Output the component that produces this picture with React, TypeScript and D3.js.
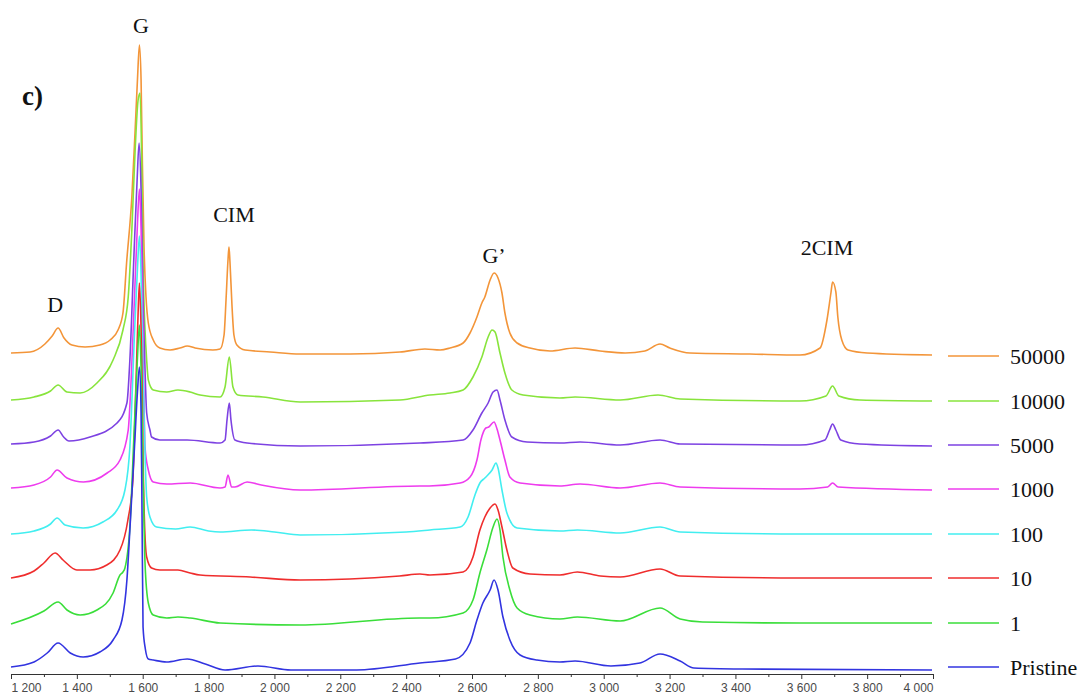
import { useEffect, useRef } from 'react';
import * as d3 from 'd3';

// Raman spectra, wavenumber (cm-1) vs intensity (a.u.) above each trace's own baseline
const pristine: [number, number][] = [
  [1200, 0], [1270, 5], [1310, 14], [1343, 24], [1380, 14], [1419, 10], [1470, 15], [1510, 27],
  [1537, 47], [1552, 87], [1561, 137], [1575, 220], [1584, 275], [1590, 300], [1595, 255],
  [1598, 150], [1601, 40], [1608, 18], [1617, 8], [1632, 7], [1672, 5], [1735, 8], [1790, 3],
  [1850, -3], [1950, 1], [2050, -3], [2250, -3], [2442, 4], [2550, 8], [2594, 24], [2615, 47],
  [2633, 64], [2655, 77], [2667, 87], [2679, 77], [2694, 50], [2715, 27], [2746, 12], [2797, 7],
  [2867, 5], [2913, 6], [3022, 1], [3110, 4], [3171, 13], [3232, 6], [3274, -1], [3420, -2], [3997, -3],
];

const dose1: [number, number][] = [
  [1200, -1], [1300, 12], [1343, 21], [1370, 13], [1410, 8], [1461, 13], [1510, 30], [1531, 48],
  [1540, 51], [1546, 55], [1561, 96], [1575, 200], [1584, 265], [1590, 298], [1595, 255],
  [1601, 150], [1607, 60], [1617, 20], [1632, 8], [1673, 5], [1707, 6], [1744, 5], [1835, 0],
  [2078, -2], [2440, 5], [2472, 5], [2573, 10], [2603, 23], [2624, 50], [2645, 73], [2664, 96],
  [2676, 104], [2685, 93], [2694, 66], [2715, 33], [2737, 15], [2776, 8], [2867, 4], [2920, 6],
  [3050, 2], [3171, 15], [3232, 4], [3300, 1], [3596, 0], [3997, 0],
];

const dose10: [number, number][] = [
  [1200, 0], [1270, 7], [1300, 15], [1334, 25], [1358, 18], [1400, 8], [1440, 8], [1491, 13],
  [1531, 28], [1555, 58], [1570, 98], [1580, 200], [1586, 265], [1590, 295], [1595, 250],
  [1598, 200], [1601, 120], [1605, 60], [1612, 21], [1627, 10], [1652, 8], [1707, 8], [1744, 5],
  [1774, 3], [1926, 1], [2078, -2], [2380, 2], [2442, 4], [2472, 3], [2573, 6], [2603, 21],
  [2624, 48], [2639, 61], [2655, 70], [2670, 74], [2679, 68], [2691, 51], [2706, 28], [2724, 10],
  [2776, 4], [2867, 3], [2920, 6], [2990, 2], [3050, 1], [3171, 9], [3232, 2], [3596, 0], [3997, 0],
];

const dose100: [number, number][] = [
  [1200, 0], [1270, 3], [1320, 10], [1340, 16], [1364, 9], [1419, 6], [1479, 12], [1522, 24],
  [1546, 44], [1561, 87], [1575, 200], [1584, 265], [1590, 298], [1595, 260], [1601, 160],
  [1607, 80], [1612, 37], [1622, 17], [1642, 7], [1700, 5], [1744, 7], [1800, 3], [1835, 2],
  [1930, 4], [2000, 2], [2078, -1], [2400, 2], [2472, 4], [2564, 7], [2588, 17], [2609, 39],
  [2624, 51], [2639, 56], [2661, 64], [2673, 71], [2679, 66], [2691, 44], [2706, 21], [2737, 6],
  [2867, 3], [2920, 4], [3050, 1], [3171, 7], [3232, 2], [3596, 0], [3997, 0],
];

const dose1000: [number, number][] = [
  [1200, 1], [1270, 4], [1320, 12], [1340, 19], [1370, 11], [1420, 7], [1492, 16], [1531, 29],
  [1556, 59], [1565, 110], [1576, 200], [1584, 265], [1590, 300], [1595, 260], [1601, 150],
  [1607, 42], [1617, 19], [1632, 7], [1673, 5], [1744, 6], [1835, 1], [1850, 2], [1859, 14],
  [1870, 2], [1880, 2], [1917, 7], [1960, 4], [2078, -1], [2442, 3], [2470, 3], [2564, 6],
  [2594, 12], [2615, 29], [2627, 49], [2642, 61], [2651, 62], [2667, 67], [2676, 60], [2685, 49],
  [2700, 29], [2715, 12], [2746, 6], [2867, 3], [2928, 5], [3050, 1], [3171, 6], [3232, 2],
  [3596, 0], [3680, 2], [3695, 6], [3712, 2], [3997, -1],
];

const dose5000: [number, number][] = [
  [1200, 1], [1270, 3], [1320, 9], [1343, 15], [1360, 8], [1376, 4], [1440, 8], [1522, 22],
  [1552, 42], [1561, 85], [1574, 195], [1583, 265], [1589, 302], [1595, 255], [1601, 145],
  [1607, 75], [1612, 32], [1622, 15], [1627, 8], [1652, 5], [1735, 5], [1835, 2], [1850, 5],
  [1856, 25], [1863, 42], [1868, 25], [1880, 5], [1917, 2], [2078, -1], [2442, 2], [2573, 5],
  [2603, 15], [2630, 32], [2649, 42], [2664, 53], [2676, 55], [2685, 45], [2700, 25], [2721, 8],
  [2767, 3], [2867, 2], [2928, 3], [3050, 0], [3171, 5], [3232, 1], [3596, 0], [3672, 5],
  [3686, 15], [3695, 21], [3705, 15], [3720, 5], [3778, 1], [3997, -1],
];

const dose10000: [number, number][] = [
  [1200, 1], [1270, 4], [1320, 10], [1343, 16], [1370, 9], [1410, 8], [1461, 18], [1510, 41],
  [1540, 71], [1556, 104], [1567, 171], [1577, 251], [1586, 301], [1592, 308], [1597, 238],
  [1601, 138], [1607, 71], [1612, 41], [1617, 21], [1632, 11], [1673, 9], [1707, 11], [1744, 9],
  [1774, 6], [1835, 4], [1850, 14], [1863, 44], [1874, 14], [1889, 6], [1965, 4], [2078, -1],
  [2381, 1], [2472, 6], [2533, 8], [2573, 11], [2603, 24], [2630, 44], [2649, 64], [2661, 71],
  [2670, 69], [2685, 48], [2700, 28], [2721, 11], [2755, 6], [2867, 3], [2913, 4], [3050, 1],
  [3165, 6], [3232, 2], [3596, 0], [3675, 5], [3695, 15], [3714, 5], [3778, 1], [3997, 0],
];

const dose50000: [number, number][] = [
  [1200, 3], [1258, 4], [1303, 12], [1325, 20], [1343, 28], [1361, 18], [1385, 11], [1425, 9],
  [1470, 11], [1501, 16], [1525, 26], [1540, 43], [1551, 93], [1567, 159], [1577, 226],
  [1584, 276], [1590, 311], [1595, 276], [1599, 193], [1604, 109], [1610, 59], [1617, 33],
  [1632, 16], [1652, 8], [1683, 6], [1713, 8], [1735, 10], [1759, 8], [1813, 6], [1835, 7],
  [1847, 21], [1853, 56], [1859, 96], [1862, 109], [1865, 94], [1871, 51], [1877, 21], [1886, 11],
  [1911, 6], [1987, 4], [2078, 2], [2230, 2], [2381, 4], [2457, 7], [2503, 6], [2533, 8],
  [2573, 13], [2594, 23], [2615, 39], [2630, 53], [2639, 59], [2655, 76], [2667, 83], [2679, 78],
  [2691, 63], [2700, 43], [2715, 23], [2737, 13], [2776, 8], [2837, 5], [2913, 8], [2989, 5],
  [3065, 3], [3125, 5], [3171, 12], [3201, 8], [3262, 3], [3444, 2], [3596, 1], [3657, 8],
  [3678, 36], [3690, 63], [3695, 74], [3705, 64], [3711, 39], [3723, 16], [3742, 6], [3800, 3],
  [3997, 1],
];

const seriesNames = ['Pristine', '1', '10', '100', '1000', '5000', '10000', '50000'];
const seriesData = [pristine, dose1, dose10, dose100, dose1000, dose5000, dose10000, dose50000];
const offsets = [7, 51, 96, 140, 185, 229, 273, 318];
const colors = ['#3234e0', '#3ade3a', '#ef2d2d', '#42eef0', '#ee3cee', '#7d42e2', '#88e43c', '#f39539'];

const majorTicks = d3.range(1200, 4001, 200);
const minorTicks = d3.range(1300, 4000, 200);

const peakLabels = [
  { text: 'D', w: 1334, v: 362 },
  { text: 'G', w: 1595, v: 641 },
  { text: 'CIM', w: 1877, v: 452 },
  { text: 'G\u2019', w: 2667, v: 411 },
  { text: '2CIM', w: 3678, v: 419 },
];

const W = 1087;
const H = 697;
const serif = '"Liberation Serif", "Times New Roman", serif';

const x = d3.scaleLinear().domain([1200, 4000]).range([11, 933]);
const y = d3.scaleLinear().domain([0, 654]).range([674, 20]);

const fmt = d3.formatLocale({ decimal: ',', thousands: ' ', grouping: [3], currency: ['', ''] }).format(',');

export default function App() {
  const axisRef = useRef<SVGGElement>(null);

  useEffect(() => {
    const g = d3.select(axisRef.current);
    g.selectAll('*').remove();

    const major = g.append('g').call(
      d3.axisBottom(x).tickValues(majorTicks).tickSize(5).tickSizeOuter(0).tickPadding(4).tickFormat((d) => fmt(d as number))
    );
    major.select('.domain').attr('stroke', '#333').attr('stroke-width', 1.2);
    major.selectAll('.tick line').attr('stroke', '#333');
    major.selectAll('.tick text')
      .attr('fill', '#4a4a4a')
      .attr('font-size', 12)
      .attr('font-family', '"Liberation Sans", Arial, sans-serif')
      .attr('text-anchor', (_d, i) => (i === 0 ? 'start' : i === majorTicks.length - 1 ? 'end' : 'middle'));

    const minor = g.append('g').call(
      d3.axisBottom(x).tickValues(minorTicks).tickSize(3).tickSizeOuter(0).tickFormat(() => '')
    );
    minor.select('.domain').remove();
    minor.selectAll('.tick line').attr('stroke', '#333');
  }, []);

  const line = (offset: number) =>
    d3.line<[number, number]>()
      .x((d) => x(d[0]))
      .y((d) => y(d[1] + offset))
      .curve(d3.curveMonotoneX);

  const order = [7, 6, 5, 4, 3, 2, 1, 0];

  return (
    <svg width={W} height={H} style={{ position: 'absolute', left: 0, top: 0, background: '#fff' }}>
      {order.map((i) => (
        <path key={seriesNames[i]} d={line(offsets[i])(seriesData[i]) || ''} fill="none" stroke={colors[i]} strokeWidth={1.6} strokeLinejoin="round" />
      ))}

      <g transform={`translate(0,${y(0)})`} ref={axisRef} />

      {seriesNames.map((name, i) => (
        <g key={name} transform={`translate(0,${y(offsets[i])})`}>
          <line x1={948} x2={999} y1={0} y2={0} stroke={colors[i]} strokeWidth={1.6} />
          <text x={1010} y={8} fontFamily={serif} fontSize={22} fill="#111">{name}</text>
        </g>
      ))}

      {peakLabels.map((p) => (
        <text key={p.text} x={x(p.w)} y={y(p.v)} textAnchor="middle" fontFamily={serif} fontSize={22} fill="#111">{p.text}</text>
      ))}

      <text x={22} y={105} fontFamily={serif} fontSize={27} fontWeight="bold" fill="#111">c)</text>
    </svg>
  );
}
